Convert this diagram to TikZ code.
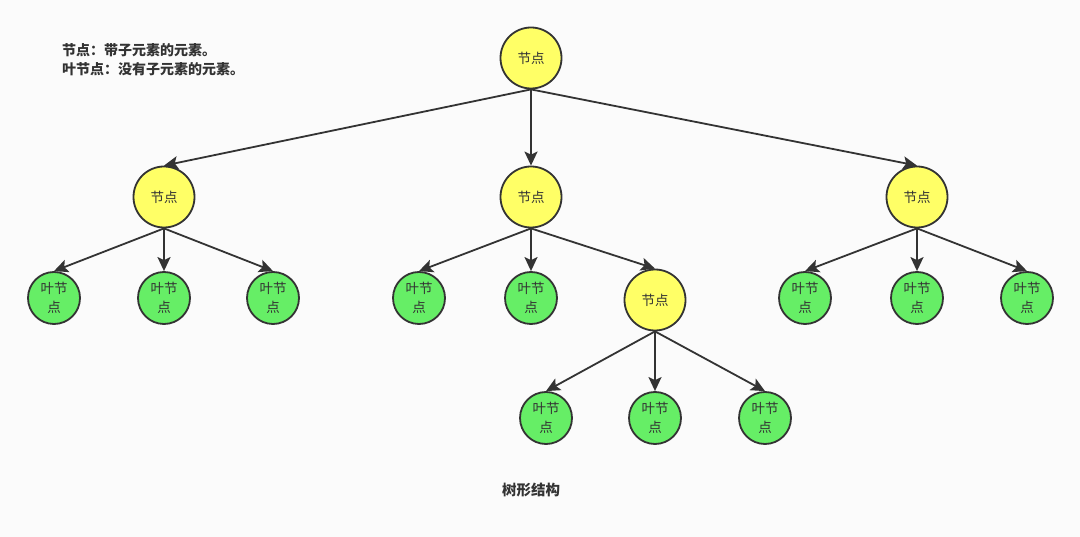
\documentclass[tikz,border=0pt]{standalone}
\usepackage{fontspec}
\newfontfamily\cjk{Noto Sans CJK SC}
\usetikzlibrary{arrows.meta}
\definecolor{bgcol}{HTML}{FBFBFB}
\definecolor{linecol}{HTML}{333333}
\definecolor{yellowcol}{HTML}{FFFF66}
\definecolor{greencol}{HTML}{66EE66}
\definecolor{textcol}{HTML}{333333}

\begin{document}
\begin{tikzpicture}[x=1pt,y=-1pt,
	inner/.style={circle,draw=linecol,line width=1.8pt,fill=yellowcol,minimum size=61pt,inner sep=0pt,font=\cjk\fontsize{13.5}{16}\selectfont,text=textcol},
	leaf/.style={circle,draw=linecol,line width=1.8pt,fill=greencol,minimum size=52pt,inner sep=0pt,align=center,font=\cjk\fontsize{13.5}{19}\selectfont,text=textcol},
	edge/.style={draw=linecol,line width=1.8pt,-{Stealth[length=14pt,width=13pt,inset=3pt]}}]
	\fill[bgcol] (0,0) rectangle (1080,537);
	\useasboundingbox (0,0) rectangle (1080,537);
	
	%NOTES
	\node[anchor=north west,align=left,text=textcol,font=\cjk\bfseries\fontsize{14}{19}\selectfont,inner sep=0pt] (note) at (62,43) {节点：带子元素的元素。\\叶节点：没有子元素的元素。};
	\node[text=textcol,font=\cjk\bfseries\fontsize{14.5}{16}\selectfont] (title) at (531,490) {树形结构};
	
	%INNER NODES
	\node[inner] (root) at (531,58) {节点};
	\node[inner] (a) at (164,197) {节点};
	\node[inner] (b) at (531,197) {节点};
	\node[inner] (c) at (917,197) {节点};
	\node[inner] (b3) at (655,300) {节点};
	
	%LEAVES
	\node[leaf] (a1) at (54,298) {叶节\\点};
	\node[leaf] (a2) at (164,298) {叶节\\点};
	\node[leaf] (a3) at (273,298) {叶节\\点};
	\node[leaf] (b1) at (419,298) {叶节\\点};
	\node[leaf] (b2) at (531,298) {叶节\\点};
	\node[leaf] (c1) at (805,298) {叶节\\点};
	\node[leaf] (c2) at (917,298) {叶节\\点};
	\node[leaf] (c3) at (1027,298) {叶节\\点};
	\node[leaf] (d1) at (546,418) {叶节\\点};
	\node[leaf] (d2) at (655,418) {叶节\\点};
	\node[leaf] (d3) at (765,418) {叶节\\点};
	
	%EDGES
	\foreach \i in {a,b,c}{
		\draw[edge] (root.south) -- (\i.north);
	}
	\foreach \i in {a1,a2,a3}{
		\draw[edge] (a.south) -- (\i.north);
	}
	\foreach \i in {b1,b2,b3}{
		\draw[edge] (b.south) -- (\i.north);
	}
	\foreach \i in {c1,c2,c3}{
		\draw[edge] (c.south) -- (\i.north);
	}
	\foreach \i in {d1,d2,d3}{
		\draw[edge] (b3.south) -- (\i.north);
	}
\end{tikzpicture}
\end{document}
